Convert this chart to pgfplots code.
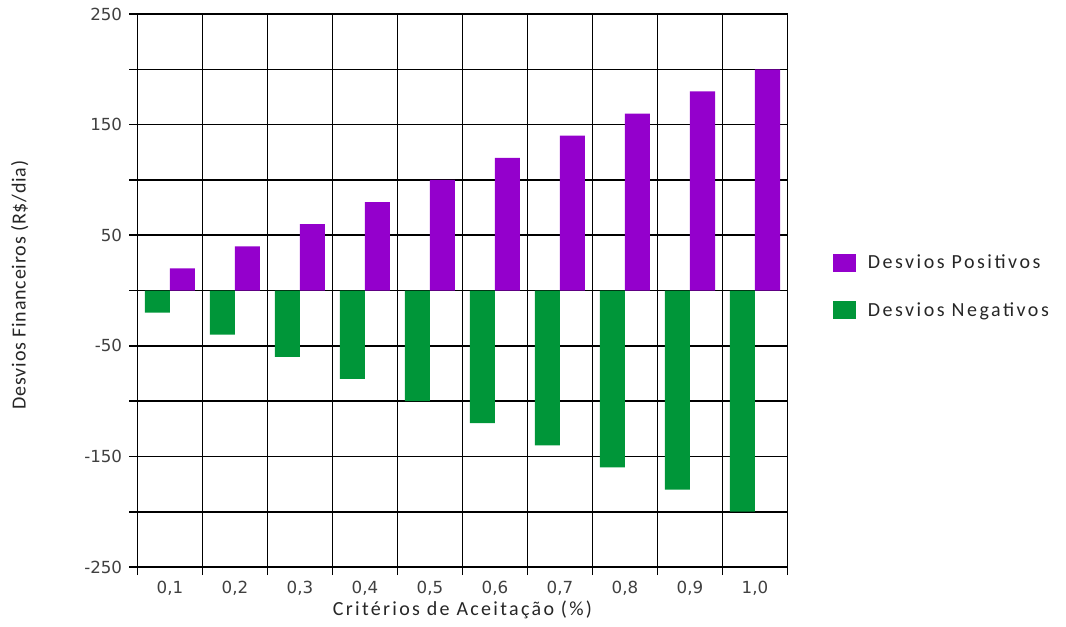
\documentclass[border=0pt]{standalone}
\usepackage{pgfplots}
\pgfplotsset{compat=1.18}
\usepackage{fontspec}
\setmainfont{Carlito}
\newfontfamily\tickfont{DejaVu Sans}
\newfontfamily\xlabfont[LetterSpace=11.6]{Carlito}
\newfontfamily\ylabfont[LetterSpace=4]{Carlito}
\newfontfamily\legfont[LetterSpace=12.5]{Carlito}
\definecolor{pos}{RGB}{148,0,204}
\definecolor{neg}{RGB}{0,150,57}
\begin{document}
\begin{tikzpicture}
\useasboundingbox (-103.1pt,-44.25pt) rectangle (696.4pt,425.25pt);
\begin{axis}[
  scale only axis,
  width=487.5pt, height=414.75pt,
  xmin=0.5, xmax=10.5, ymin=-250, ymax=250,
  axis line style={black, line width=1.2pt},
  xtick={1,...,10},
  xticklabels={{0,1},{0,2},{0,3},{0,4},{0,5},{0,6},{0,7},{0,8},{0,9},{1,0}},
  minor xtick={0.5,1.5,...,10.5},
  ytick={-250,-150,-50,50,150,250},
  yticklabels={-250,-150,-50,50,150,250},
  minor ytick={-200,-100,0,100,200},
  xminorgrids, ymajorgrids, yminorgrids,
  grid style={black, line width=1.2pt},
  minor grid style={black, line width=1.2pt},
  major x tick style={draw=none},
  tick style={black, line width=1.2pt},
  tick align=outside,
  major tick length=6pt, minor tick length=6pt,
  xtick pos=left, ytick pos=left,
  ticklabel style={font=\tickfont\fontsize{12.5}{15}\selectfont, text=black!75},
  yticklabel style={xshift=-2pt},
  xticklabel style={yshift=-1pt},
  xlabel={Critérios de Aceitação (\%)},
  ylabel={Desvios Financeiros (R\$/dia)},
  label style={text=black!85},
  xlabel style={font=\xlabfont\fontsize{15}{17}\selectfont, at={(axis description cs:0.5,-0.078)}, anchor=center},
  ylabel style={font=\ylabfont\fontsize{15}{17}\selectfont, at={(axis description cs:-0.181,0.51)}, anchor=center},
  legend style={at={(rel axis cs:1.07,0.57)}, anchor=north west, draw=none,
    fill=none, inner sep=0pt, row sep=20pt,
    font=\legfont\fontsize{15}{17}\selectfont, text=black!85,
    nodes={inner xsep=9pt}},
  legend cell align=left,
  legend image code/.code={\fill[#1] (0pt,-6.75pt) rectangle (17pt,6.75pt);},
]
\addplot[ybar, bar width=0.385, bar shift=0.1925, fill=pos, draw=none]
  coordinates {(1,20) (2,40) (3,60) (4,80) (5,100) (6,120) (7,140) (8,160) (9,180) (10,200)};
\addlegendentry{Desvios Positivos}
\addplot[ybar, bar width=0.385, bar shift=-0.1925, fill=neg, draw=none]
  coordinates {(1,-20) (2,-40) (3,-60) (4,-80) (5,-100) (6,-120) (7,-140) (8,-160) (9,-180) (10,-200)};
\addlegendentry{Desvios Negativos}
\end{axis}
\end{tikzpicture}
\end{document}
